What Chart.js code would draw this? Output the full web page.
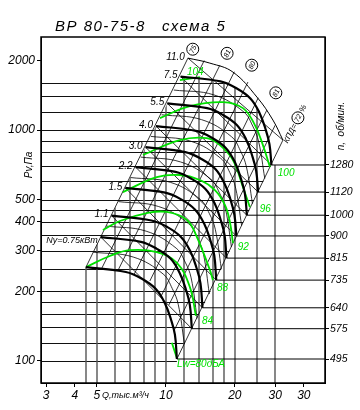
<!DOCTYPE html>
<html lang="ru">
<head>
<meta charset="UTF-8">
<title>ВР 80-75-8 схема 5</title>
<script src="https://cdn.jsdelivr.net/npm/chart.js"></script>
<style>
    html, body { margin: 0; padding: 0; background: #fff; }
    #wrap { width: 360px; height: 410px; }
</style>
</head>
<body>
<div id="wrap"><canvas id="fanChart"></canvas></div>
<script>
// axes
const qMin = 2.85, qMax = 49.5, pMin = 80.3, pMax = 2530;
const qTicks = [3, 4, 5, 10, 20, 30, 40];
const qTickLabels = ['3', '4', '5', '10', '20', '30', '30'];
const pTicks = [100, 200, 300, 400, 500, 1000, 2000];
const gridQ = [4.5, 5, 6, 7, 8, 9, 10, 12, 14, 16, 18, 20, 25, 30];
const gridP = [100, 120, 140, 160, 180, 200, 250, 300, 350, 400, 450, 500, 600, 700, 800, 900, 1000, 1200, 1400, 1600];

// rpm lines on the right
const rpm = [495, 575, 640, 735, 815, 900, 1000, 1120, 1280];
const rpmP = [102, 138, 170, 224, 279, 348, 428, 539, 706];

// fan curves (Q thousand m3/h, Pv Pa), one row per rpm
const curveQ = [
    [4.48, 6.69, 7.86, 9.04, 9.90, 10.51, 10.95, 11.17],
    [5.20, 7.77, 9.13, 10.50, 11.50, 12.21, 12.72, 12.98],
    [5.79, 8.65, 10.16, 11.69, 12.80, 13.59, 14.16, 14.44],
    [6.65, 9.93, 11.67, 13.42, 14.70, 15.61, 16.26, 16.59],
    [7.38, 11.02, 12.94, 14.88, 16.30, 17.30, 18.03, 18.39],
    [8.15, 12.16, 14.29, 16.44, 18.00, 19.11, 19.91, 20.31],
    [9.05, 13.52, 15.88, 18.26, 20.00, 21.23, 22.12, 22.57],
    [10.14, 15.14, 17.78, 20.45, 22.40, 23.78, 24.78, 25.27],
    [11.59, 17.30, 20.33, 23.38, 25.60, 27.18, 28.32, 28.89]
];
const curveP = [
    [255, 243, 227, 205, 178, 152, 130, 102],
    [344, 328, 306, 277, 240, 205, 175, 138],
    [426, 406, 380, 343, 298, 254, 217, 170],
    [562, 536, 501, 452, 393, 335, 287, 224],
    [691, 659, 615, 556, 483, 412, 352, 279],
    [843, 803, 750, 678, 588, 503, 430, 348],
    [1041, 992, 926, 837, 727, 620, 531, 428],
    [1305, 1244, 1162, 1050, 911, 778, 666, 539],
    [1705, 1625, 1518, 1371, 1190, 1016, 869, 706]
];

// thin curves between the thick ones
const thinQ = [
    [4.82, 7.20, 9.73, 10.66, 11.32, 12.04],
    [5.49, 8.20, 11.09, 12.14, 12.89, 13.69],
    [6.21, 9.27, 12.53, 13.72, 14.57, 15.48],
    [7.01, 10.46, 14.13, 15.48, 16.43, 17.47],
    [7.76, 11.58, 15.65, 17.14, 18.20, 19.33],
    [8.60, 12.84, 17.35, 19.00, 20.17, 21.41],
    [9.58, 14.30, 19.32, 21.16, 22.46, 23.88],
    [10.83, 16.18, 21.86, 23.94, 25.42, 27.02]
];
const thinP = [
    [296, 282, 238, 206, 176, 119],
    [384, 365, 308, 268, 229, 153],
    [490, 467, 394, 342, 292, 195],
    [623, 594, 501, 435, 372, 250],
    [764, 728, 615, 534, 456, 312],
    [939, 895, 755, 656, 560, 386],
    [1165, 1110, 937, 813, 694, 480],
    [1491, 1421, 1199, 1041, 889, 617]
];

// outer arc (Ny = 11.0)
const outerQ = [12.48, 15.56, 19.62, 24.97, 29.33, 32.43];
const outerP = [2050, 1950, 1783, 1390, 1105, 905];

// motor power labels, from 575 rpm upwards, last one for the outer arc
const powerLabels = ['Ny=0.75кВт', '1.1', '1.5', '2.2', '3.0', '4.0', '5.5', '7.5', '11.0'];

// efficiency rays
const rayQ = [[4.48, 12.48], [5.25, 14.7], [6.17, 17.21], [7.25, 19.9], [8.51, 22.81], [9.51, 25.3], [10.31, 27.6], [10.84, 30.0], [11.17, 32.43]];
const rayP = [[255, 2050], [252, 2000], [246, 1911], [236, 1790], [222, 1614], [190, 1380], [175, 1221], [135, 1050], [102, 905]];
const etaLabels = ['75', '81', '80', '81', '72'];
const etaQ = [13.1, 18.5, 23.7, 30.2, 37.7];
const etaP = [2240, 2150, 1910, 1450, 1130];

// sound power level curves
const lwLabels = ['Lw=80дБА', '84', '88', '92', '96', '100', '104'];
const lwQ = [
    [10.62, 11.17],
    [4.48, 5.69, 6.96, 9.13, 11.17, 12.73, 13.52],
    [5.31, 6.30, 8.26, 10.10, 12.35, 13.66, 15.56, 16.04],
    [6.49, 9.13, 11.51, 14.08, 16.37, 18.10, 19.03, 19.62],
    [7.94, 11.51, 15.10, 17.21, 19.62, 21.69, 23.27],
    [9.42, 12.73, 17.74, 21.69, 24.47, 26.52, 28.46],
    [11.51, 14.08]
];
const lwP = [
    [120, 103],
    [255, 285, 302, 296, 266, 209, 157],
    [369, 404, 437, 442, 408, 344, 248, 224],
    [539, 626, 639, 608, 550, 474, 400, 324],
    [780, 905, 923, 861, 742, 567, 464],
    [1127, 1270, 1322, 1245, 1051, 861, 692],
    [1647, 1696]
];
const lwLabelQ = [11.17, 14.36, 16.7, 20.6, 25.7, 30.8, 12.35];
const lwLabelP = [97, 148, 207, 311, 455, 651, 1783];

const GREEN = '#00e000';
const FONT = 'Liberation Sans';

function pts(qs, ps) {
    return qs.map((q, j) => ({ x: q, y: ps[j] }));
}
function line(data, color, width, order, tension) {
    return {
        data: data, showLine: true, pointRadius: 0, fill: false,
        borderColor: color, borderWidth: width, order: order, tension: tension
    };
}

const last = curveQ[0].length - 1;
const datasets = [];
curveQ.forEach((row, i) => datasets.push(line(pts(row, curveP[i]), '#000', 2.2, 1, 0.4)));
lwQ.forEach((row, i) => datasets.push(line(pts(row, lwP[i]), GREEN, 1.8, 2, 0.4)));
thinQ.forEach((row, i) => datasets.push(line(pts(row, thinP[i]), '#000', 0.8, 3, 0.4)));
datasets.push(line(pts(outerQ, outerP), '#000', 1, 3, 0.4));
rayQ.forEach((row, i) => datasets.push(line(pts(row, rayP[i]), '#000', 0.8, 4, 0)));
// power lines join start and end of each curve
for (let i = 1; i < curveQ.length; i++) {
    datasets.push(line([{ x: curveQ[i][0], y: curveP[i][0] }, { x: curveQ[i][last], y: curveP[i][last] }], '#000', 0.8, 4, 0));
}
datasets.push(line([{ x: outerQ[0], y: outerP[0] }, { x: outerQ[outerQ.length - 1], y: outerP[outerP.length - 1] }], '#000', 0.8, 4, 0));
rpm.forEach((n, i) => datasets.push(line([{ x: curveQ[i][last], y: rpmP[i] }, { x: qMax, y: rpmP[i] }], '#000', 1, 5, 0)));

const nomogram = {
    id: 'nomogram',
    beforeDatasetsDraw(chart) {
        const { ctx, chartArea: a, scales: { x, y } } = chart;
        const toPx = ([q, p]) => [x.getPixelForValue(q), y.getPixelForValue(p)];
        const top = curveQ.length - 1;
        const starts = curveQ.map((r, i) => [r[0], curveP[i][0]]);
        const ends = curveQ.map((r, i) => [r[last], curveP[i][last]]);
        const topCurve = curveQ[top].map((q, j) => [q, curveP[top][j]]);
        const hPoly = [[qMin, pMin], [qMin, pMax], [curveQ[top][0], pMax], ...topCurve, ...ends.slice().reverse(), [ends[0][0], pMin]];
        const vPoly = [[qMin, pMin], [qMin, starts[0][1]], ...starts, ...topCurve.slice(1), [qMax, ends[top][1]], [qMax, pMin]];
        function clipTo(poly) {
            ctx.beginPath();
            poly.map(toPx).forEach(([px, py], k) => k ? ctx.lineTo(px, py) : ctx.moveTo(px, py));
            ctx.closePath();
            ctx.clip();
        }
        ctx.save();
        ctx.beginPath();
        ctx.rect(a.left, a.top, a.width, a.height);
        ctx.clip();

        ctx.save();
        clipTo(hPoly);
        ctx.strokeStyle = '#111';
        ctx.lineWidth = 1;
        gridP.forEach(p => {
            const py = Math.round(y.getPixelForValue(p)) + 0.5;
            ctx.beginPath(); ctx.moveTo(a.left, py); ctx.lineTo(a.right, py); ctx.stroke();
        });
        ctx.restore();

        ctx.save();
        clipTo(vPoly);
        ctx.strokeStyle = '#555';
        ctx.lineWidth = 1.4;
        gridQ.forEach(q => {
            const qx = Math.round(x.getPixelForValue(q));
            ctx.beginPath(); ctx.moveTo(qx, a.top); ctx.lineTo(qx, a.bottom); ctx.stroke();
        });
        ctx.restore();
        ctx.restore();
    },
    afterDatasetsDraw(chart) {
        const { ctx, scales: { x, y } } = chart;
        ctx.save();
        ctx.fillStyle = '#000';
        ctx.textBaseline = 'middle';

        // power labels, just left of each curve start
        ctx.textAlign = 'right';
        powerLabels.forEach((t, k) => {
            const i = k + 1;
            const q = i < curveQ.length ? curveQ[i][0] : outerQ[0];
            const p = i < curveQ.length ? curveP[i][0] : outerP[0];
            ctx.font = 'italic ' + (k === 0 ? 9 : 10) + 'px "' + FONT + '"';
            ctx.fillText(t, x.getPixelForValue(q) - 3, y.getPixelForValue(p) + (k === 0 ? 3 : -1));
        });

        // Lw labels
        ctx.font = 'italic 10px "' + FONT + '"';
        ctx.fillStyle = GREEN;
        ctx.textAlign = 'left';
        lwLabels.forEach((t, i) => {
            ctx.fillText(t, x.getPixelForValue(lwLabelQ[i]), y.getPixelForValue(lwLabelP[i]));
        });

        // efficiency circles
        ctx.strokeStyle = '#000';
        ctx.lineWidth = 1;
        const ang = -63 * Math.PI / 180;
        etaLabels.forEach((t, i) => {
            const cx = x.getPixelForValue(etaQ[i]), cy = y.getPixelForValue(etaP[i]);
            ctx.beginPath(); ctx.arc(cx, cy, 6, 0, 2 * Math.PI);
            ctx.fillStyle = '#fff'; ctx.fill(); ctx.stroke();
            ctx.save();
            ctx.translate(cx, cy); ctx.rotate(ang);
            ctx.fillStyle = '#000';
            ctx.font = 'italic 7px "' + FONT + '"';
            ctx.textAlign = 'center';
            ctx.fillText(t, 0, 0.5);
            if (i === etaLabels.length - 1) {
                ctx.textAlign = 'right';
                ctx.font = 'italic 8px "' + FONT + '"';
                ctx.fillText('КПД=', -7, 0.5);
                ctx.textAlign = 'left';
                ctx.fillText('%', 7, 0.5);
            }
            ctx.restore();
        });
        ctx.restore();
    },
    afterDraw(chart) {
        const { ctx, chartArea: a } = chart;
        ctx.save();
        ctx.strokeStyle = '#000';
        ctx.lineWidth = 1.5;
        ctx.strokeRect(a.left, a.top, a.width, a.height);

        ctx.fillStyle = '#000';
        ctx.textBaseline = 'alphabetic';
        ctx.textAlign = 'left';
        ctx.font = 'italic 15px "' + FONT + '"';
        ctx.letterSpacing = '1.5px';
        ctx.fillText('ВР 80-75-8', 55, 31);
        ctx.fillText('схема 5', 162, 31);
        ctx.letterSpacing = '0px';

        ctx.textBaseline = 'middle';
        ctx.font = 'italic 9px "' + FONT + '"';
        ctx.fillText('Q,тыс.м³/ч', 102, 395);

        ctx.font = 'italic 10px "' + FONT + '"';
        ctx.save();
        ctx.translate(29, 165); ctx.rotate(-Math.PI / 2);
        ctx.textAlign = 'center';
        ctx.fillText('Pv,Па', 0, 0);
        ctx.restore();

        ctx.save();
        ctx.translate(341, 126); ctx.rotate(-Math.PI / 2);
        ctx.textAlign = 'center';
        ctx.fillText('n,  об/мин.', 0, 0);
        ctx.restore();
        ctx.restore();
    }
};

Chart.defaults.font.family = FONT;
Chart.defaults.color = '#000';

new Chart(document.getElementById('fanChart'), {
    type: 'scatter',
    data: { datasets: datasets },
    plugins: [nomogram],
    options: {
        responsive: true,
        maintainAspectRatio: false,
        animation: false,
        events: [],
        layout: { padding: { top: 37, left: 0, right: 0, bottom: 0 } },
        plugins: { legend: { display: false }, tooltip: { enabled: false } },
        scales: {
            x: {
                type: 'logarithmic', min: qMin, max: qMax,
                afterBuildTicks: s => { s.ticks = qTicks.map(v => ({ value: v })); },
                afterFit: s => { s.height = 27; },
                ticks: {
                    autoSkip: false, maxRotation: 0, padding: 1,
                    font: { size: 12, style: 'italic' },
                    callback: v => qTickLabels[qTicks.indexOf(v)]
                },
                grid: { drawOnChartArea: false, color: '#000', tickLength: 4 },
                border: { color: '#000' }
            },
            y: {
                type: 'logarithmic', min: pMin, max: pMax, position: 'left',
                afterBuildTicks: s => { s.ticks = pTicks.map(v => ({ value: v })); },
                afterFit: s => { s.width = 41; },
                ticks: {
                    padding: 2,
                    font: { size: 12, style: 'italic' },
                    callback: v => String(v)
                },
                grid: { drawOnChartArea: false, color: '#000', tickLength: 4 },
                border: { color: '#000' }
            },
            y2: {
                type: 'logarithmic', min: pMin, max: pMax, position: 'right',
                afterBuildTicks: s => { s.ticks = rpmP.map(v => ({ value: v })); },
                afterFit: s => { s.width = 35; },
                ticks: {
                    padding: 1,
                    font: { size: 10.5, style: 'italic' },
                    callback: v => String(rpm[rpmP.indexOf(v)])
                },
                grid: { drawOnChartArea: false, color: '#000', tickLength: 4 },
                border: { color: '#000' }
            }
        }
    }
});
</script>
</body>
</html>
